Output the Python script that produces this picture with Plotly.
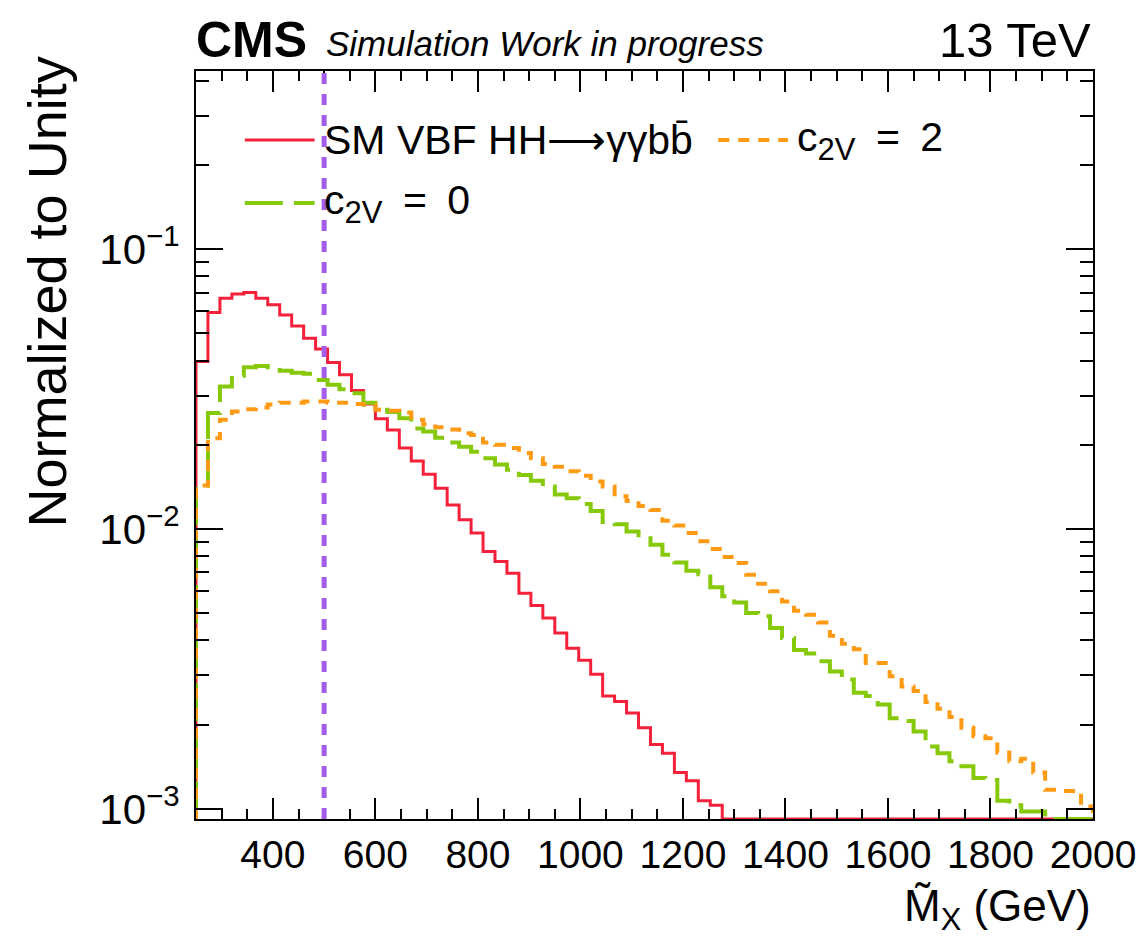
import numpy as np
import plotly.graph_objects as go

# Binning of the reconstructed mass histogram (GeV)
BIN_LOW, BIN_HIGH, N_BINS = 250.0, 2000.0, 75

# Normalised bin contents (75 bins, 250-2000 GeV)
sm_vbf = [
    0.0397, 0.0594, 0.0668, 0.0692, 0.0700, 0.0668, 0.0633, 0.0582, 0.0532, 0.0481,
    0.0440, 0.0394, 0.0356, 0.0313, 0.0280, 0.0248, 0.0226, 0.0195, 0.0175, 0.0157,
    0.0140, 0.0122, 0.0108, 0.00968, 0.00832, 0.00766, 0.00696, 0.00590, 0.00533, 0.00481,
    0.00425, 0.00375, 0.00340, 0.00303, 0.00253, 0.00242, 0.00220, 0.00195, 0.00170, 0.00158,
    0.00135, 0.00126, 0.00107, 0.00103, 0.0, 0.0, 0.0, 0.0, 0.0, 0.0,
    0.0, 0.0, 0.0, 0.0, 0.0, 0.0, 0.0, 0.0, 0.0, 0.0,
    0.0, 0.0, 0.0, 0.0, 0.0, 0.0, 0.0, 0.0, 0.0, 0.0,
    0.0, 0.0, 0.0, 0.0, 0.0,
]

c2v_0 = [
    0.0143, 0.0260, 0.0323, 0.0353, 0.0379, 0.0383, 0.0379, 0.0368, 0.0362, 0.0359,
    0.0341, 0.0328, 0.0316, 0.0306, 0.0283, 0.0267, 0.0262, 0.0249, 0.0229, 0.0223,
    0.0212, 0.0204, 0.0197, 0.0189, 0.0179, 0.0170, 0.0163, 0.0156, 0.0149, 0.0142,
    0.0133, 0.0129, 0.0123, 0.0116, 0.0106, 0.0104, 0.0098, 0.0095, 0.0088, 0.0081,
    0.0076, 0.0071, 0.0069, 0.0062, 0.00575, 0.00547, 0.00501, 0.00488, 0.00443, 0.00408,
    0.00370, 0.00359, 0.00337, 0.00310, 0.00290, 0.00260, 0.00253, 0.00236, 0.00211, 0.00206,
    0.00189, 0.00167, 0.00158, 0.00148, 0.00142, 0.00129, 0.00127, 0.00107, 0.00103, 0.00098,
    0.00098, 0.0, 0.0, 0.0, 0.0,
]

c2v_2 = [
    0.0143, 0.0211, 0.0246, 0.0263, 0.0268, 0.0272, 0.0279, 0.0283, 0.0283, 0.0286,
    0.0286, 0.0283, 0.0283, 0.0280, 0.0278, 0.0267, 0.0265, 0.0261, 0.0246, 0.0237,
    0.0231, 0.0227, 0.0220, 0.0217, 0.0204, 0.0200, 0.0195, 0.0187, 0.0179, 0.0171,
    0.0167, 0.0161, 0.0155, 0.0148, 0.0142, 0.0131, 0.0126, 0.0121, 0.0117, 0.0107,
    0.0103, 0.00968, 0.00904, 0.00849, 0.00794, 0.00756, 0.00687, 0.00638, 0.00599, 0.00551,
    0.00511, 0.00494, 0.00464, 0.00416, 0.00389, 0.00372, 0.00332, 0.00332, 0.00298, 0.00274,
    0.00264, 0.00241, 0.00228, 0.00213, 0.00195, 0.00182, 0.00179, 0.00159, 0.00148, 0.00151,
    0.00135, 0.00117, 0.00116, 0.00116, 0.00102,
]

# Mass cut shown as a vertical line (GeV)
CUT_MX = 500.0

x_tick_vals = [400, 600, 800, 1000, 1200, 1400, 1600, 1800, 2000]
y_tick_vals = [1e-3, 1e-2, 1e-1]
y_tick_text = ["10<sup>\u22123</sup>", "10<sup>\u22122</sup>", "10<sup>\u22121</sup>"]

# ---- styling -------------------------------------------------------------
FONT = "Liberation Sans, Arial, Helvetica, sans-serif"
RED = "#F5203A"
GREEN = "#86C80A"
ORANGE = "#FF9A14"
PURPLE = "#A45DEB"

W, H = 1148, 937
M_L, M_R, M_T, M_B = 196, 52, 71, 118
PW, PH = W - M_L - M_R, H - M_T - M_B

Y_LOG_MIN, Y_LOG_MAX = -3.036, -0.363
Y_FLOOR = 10 ** Y_LOG_MIN

GREEN_DASH = "38px,11px"
ORANGE_DASH = "11px,9px"
PURPLE_DASH = "11px,10px"

edges = np.linspace(BIN_LOW, BIN_HIGH, N_BINS + 1)


def step_xy(vals):
    """Histogram outline; empty / tiny bins sit on the frame minimum."""
    v = np.maximum(np.asarray(vals, dtype=float), Y_FLOOR)
    x = np.concatenate([[edges[0]], edges[:-1], [edges[-1], edges[-1]]])
    y = np.concatenate([[Y_FLOOR], v, [v[-1], Y_FLOOR]])
    return x, y


def px(xp):
    return (xp - M_L) / PW


def py(yp):
    return 1 - (yp - M_T) / PH


fig = go.Figure()

for vals, color, dash, width, name in [
    (sm_vbf, RED, "solid", 3, "SM VBF HH\u2192\u03b3\u03b3bb\u0304"),
    (c2v_0, GREEN, GREEN_DASH, 4, "c2V = 0"),
    (c2v_2, ORANGE, ORANGE_DASH, 4, "c2V = 2"),
]:
    xs, ys = step_xy(vals)
    fig.add_trace(go.Scatter(
        x=xs, y=ys, mode="lines", name=name, showlegend=False,
        line=dict(color=color, width=width, dash=dash, shape="hv"),
        hoverinfo="skip",
    ))

# vertical cut line
fig.add_shape(type="line", xref="x", yref="paper", x0=CUT_MX, x1=CUT_MX, y0=0, y1=1,
              line=dict(color=PURPLE, width=5, dash=PURPLE_DASH), layer="above")

# legend keys
SUB = "<sub><span style='font-size:31px'>2V</span></sub>"
legend_rows = [
    (245, 315, 140, RED, "solid", 3, 322,
     "SM VBF HH\u27f6\u03b3\u03b3bb\u0304"),
    (720, 790, 140, ORANGE, ORANGE_DASH, 4, 797, "c" + SUB + "\u2002=\u20022"),
    (245, 315, 203, GREEN, GREEN_DASH, 4, 322, "c" + SUB + "\u2002=\u20020"),
]
for x0, x1, yk, color, dash, width, xt, label in legend_rows:
    fig.add_shape(type="line", xref="paper", yref="paper", x0=px(x0), x1=px(x1),
                  y0=py(yk), y1=py(yk), line=dict(color=color, width=width, dash=dash))
    fig.add_annotation(xref="paper", yref="paper", x=px(xt), y=py(yk), text=label,
                       showarrow=False, xanchor="left", yanchor="middle",
                       font=dict(family=FONT, size=41, color="black"))

# header texts
fig.add_annotation(xref="paper", yref="paper", x=px(194), y=py(40), text="<b>CMS</b>",
                   showarrow=False, xanchor="left", yanchor="middle",
                   font=dict(family=FONT, size=50, color="black"))
fig.add_annotation(xref="paper", yref="paper", x=px(324), y=py(43),
                   text="<i>Simulation Work in progress</i>",
                   showarrow=False, xanchor="left", yanchor="middle",
                   font=dict(family=FONT, size=35, color="black"))
fig.add_annotation(xref="paper", yref="paper", x=px(1096), y=py(40), text="13 TeV",
                   showarrow=False, xanchor="right", yanchor="middle",
                   font=dict(family=FONT, size=49, color="black"))

# axis titles
fig.add_annotation(xref="paper", yref="paper", x=px(47), y=py(292),
                   text="Normalized to Unity", textangle=-90,
                   showarrow=False, xanchor="center", yanchor="middle",
                   font=dict(family=FONT, size=54, color="black"))
fig.add_annotation(xref="paper", yref="paper", x=px(1096), y=py(909),
                   text="M\u0303<sub>X</sub> (GeV)",
                   showarrow=False, xanchor="right", yanchor="middle",
                   font=dict(family=FONT, size=44, color="black"))

x_minor = [v for v in range(300, 2000, 50) if v not in x_tick_vals]
y_minor = [m * 10.0 ** e for e in (-3, -2, -1) for m in range(2, 10) if m * 10.0 ** e < 10 ** Y_LOG_MAX]

fig.update_xaxes(
    range=[BIN_LOW, BIN_HIGH], showgrid=False, zeroline=False,
    showline=True, linecolor="black", linewidth=2, mirror="allticks",
    ticks="inside", ticklen=21, tickwidth=2, tickcolor="black",
    tickvals=x_tick_vals, ticktext=[str(v) for v in x_tick_vals],
    tickfont=dict(family=FONT, size=39, color="black"), ticklabelstandoff=0,
    minor=dict(tickvals=x_minor, ticks="inside", ticklen=10, tickwidth=2, tickcolor="black",
               showgrid=False),
)
fig.update_yaxes(
    type="log", range=[Y_LOG_MIN, Y_LOG_MAX], showgrid=False, zeroline=False,
    showline=True, linecolor="black", linewidth=2, mirror="allticks",
    ticks="inside", ticklen=27, tickwidth=2, tickcolor="black",
    tickvals=y_tick_vals, ticktext=y_tick_text,
    tickfont=dict(family=FONT, size=42, color="black"), ticklabelstandoff=6,
    minor=dict(tickvals=y_minor, ticks="inside", ticklen=13, tickwidth=2, tickcolor="black",
               showgrid=False),
)

fig.update_layout(
    width=W, height=H, autosize=False,
    margin=dict(l=M_L, r=M_R, t=M_T, b=M_B),
    paper_bgcolor="white", plot_bgcolor="white",
    showlegend=False,
    font=dict(family=FONT, color="black"),
)

fig.write_html("out.html")
